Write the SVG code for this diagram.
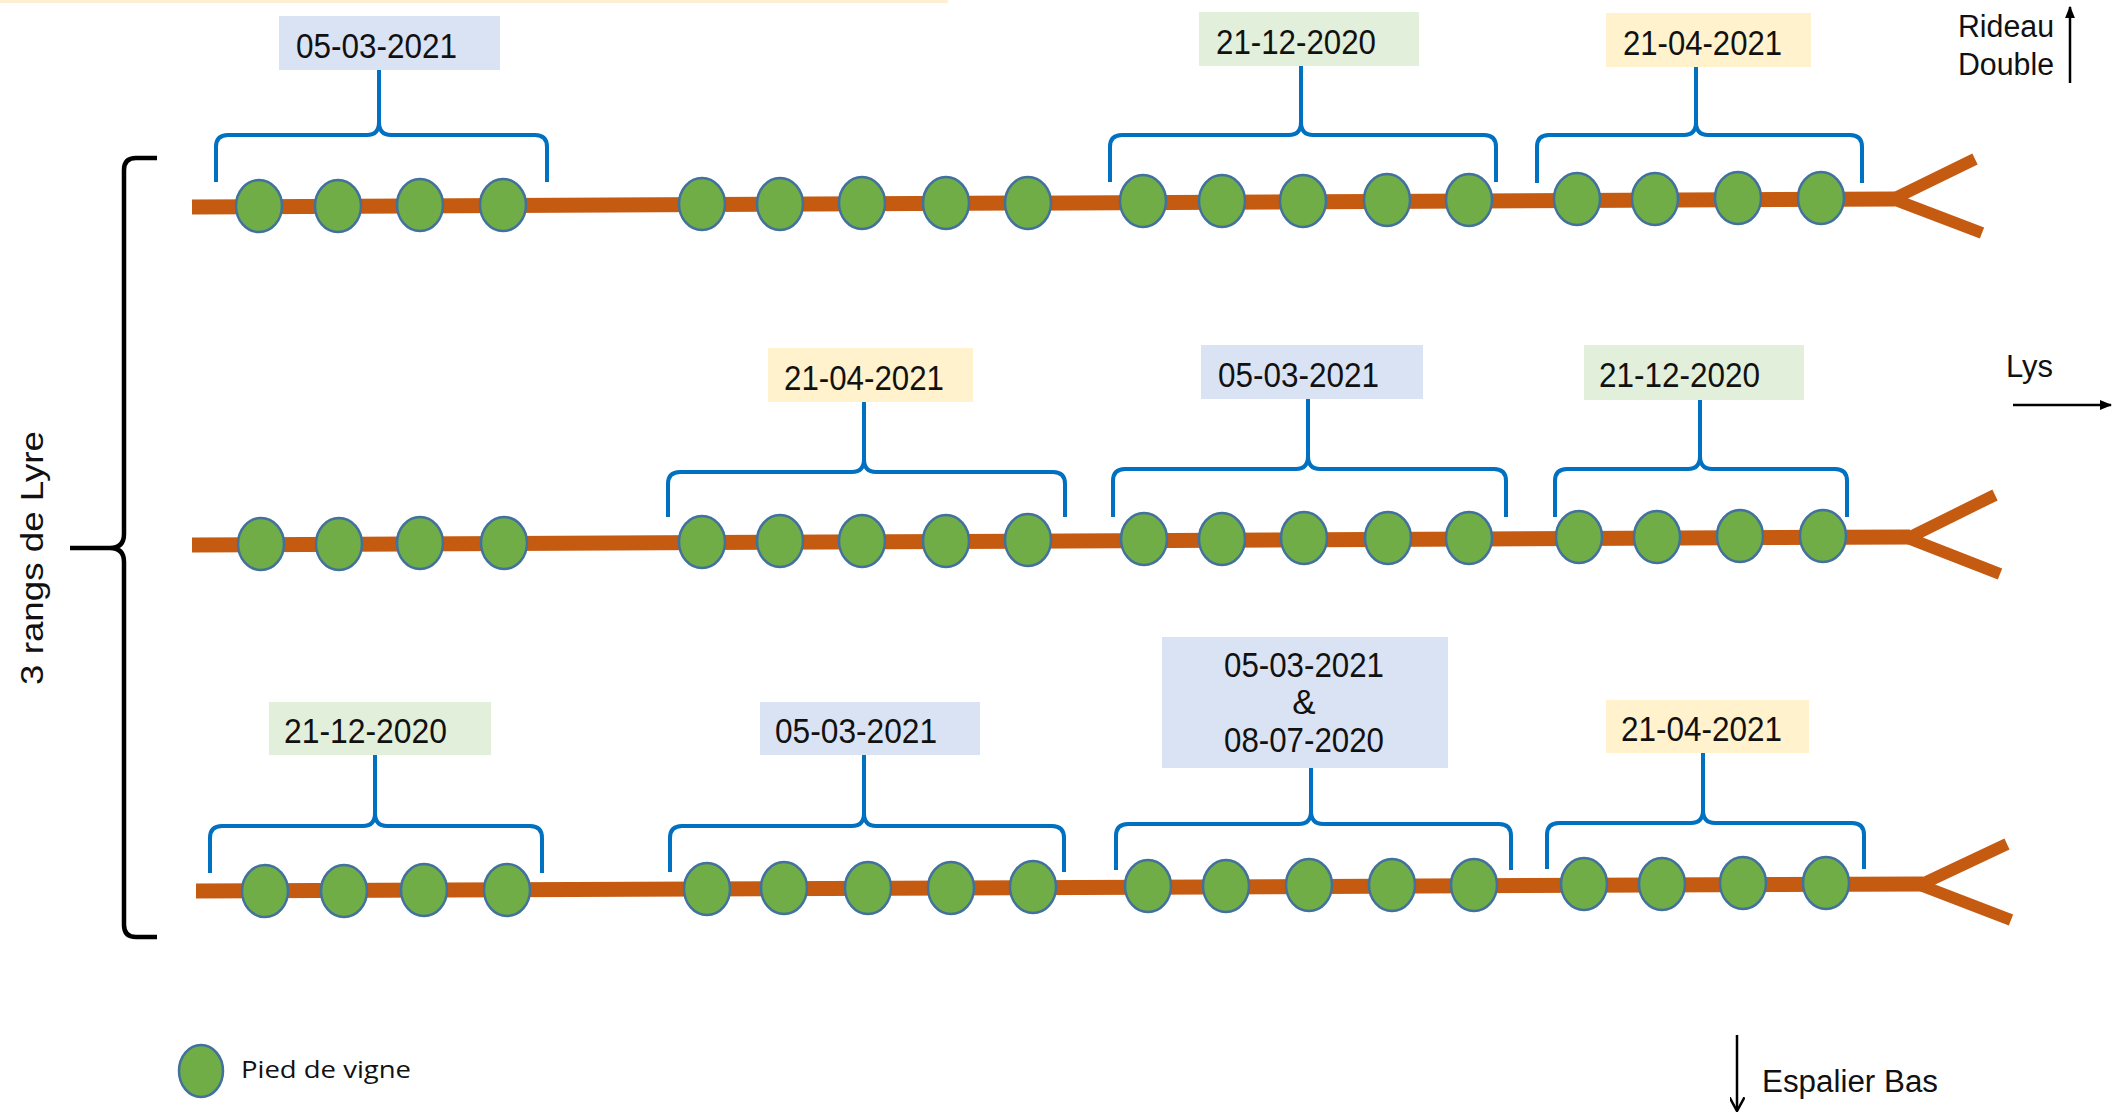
<svg xmlns="http://www.w3.org/2000/svg" width="2113" height="1113" viewBox="0 0 2113 1113">
<style>
.rail{stroke:#c55a11;stroke-width:15;fill:none;stroke-linecap:butt}
.arm{stroke:#c55a11;stroke-width:12;fill:none;stroke-linejoin:miter}
.vine{fill:#70ad47;stroke:#41719c;stroke-width:2.5}
.brace{fill:none;stroke:#0070c0;stroke-width:4;stroke-linejoin:round}
.bb{fill:#dae3f3}.bg{fill:#e2efda}.by{fill:#fff2cc}
.lbl{font-family:"Liberation Sans",Arial,sans-serif;font-size:35px;fill:#111}
.ax{font-family:"Liberation Sans",Arial,sans-serif;font-size:31px;fill:#111}
.arr{stroke:#000;stroke-width:2.5;fill:none}
.blk{stroke:#000;stroke-width:4.5;fill:none;stroke-linejoin:round}
</style>
<defs>
<marker id="ah" viewBox="0 0 10 10" refX="9" refY="5" markerWidth="5" markerHeight="5" orient="auto" markerUnits="strokeWidth">
<path d="M0,1 L10,5 L0,9 Z" fill="#000"/>
</marker>
<marker id="ahv" viewBox="0 0 12 12" refX="11" refY="6" markerWidth="6" markerHeight="6" orient="auto" markerUnits="strokeWidth">
<path d="M0,0 L11,6 L0,12" fill="none" stroke="#000" stroke-width="2"/>
</marker>
</defs>
<rect x="0" y="0" width="948" height="3" fill="#fdefd2"/>

<g id="rows">
<g id="row1">
<line class="rail" x1="192" y1="207" x2="1895" y2="199"/>
<polyline class="arm" points="1975,159 1893,199 1982,233"/>
<g id="row1-vines">
<ellipse class="vine" cx="259" cy="206" rx="23" ry="26"/><ellipse class="vine" cx="338" cy="206" rx="23" ry="26"/><ellipse class="vine" cx="420" cy="205" rx="23" ry="26"/><ellipse class="vine" cx="503" cy="205" rx="23" ry="26"/>
<ellipse class="vine" cx="702" cy="204" rx="23" ry="26"/><ellipse class="vine" cx="780" cy="204" rx="23" ry="26"/><ellipse class="vine" cx="862" cy="203" rx="23" ry="26"/><ellipse class="vine" cx="946" cy="203" rx="23" ry="26"/><ellipse class="vine" cx="1028" cy="203" rx="23" ry="26"/>
<ellipse class="vine" cx="1143" cy="201" rx="23" ry="26"/><ellipse class="vine" cx="1222" cy="201" rx="23" ry="26"/><ellipse class="vine" cx="1303" cy="201" rx="23" ry="26"/><ellipse class="vine" cx="1387" cy="200" rx="23" ry="26"/><ellipse class="vine" cx="1469" cy="200" rx="23" ry="26"/>
<ellipse class="vine" cx="1577" cy="199" rx="23" ry="26"/><ellipse class="vine" cx="1655" cy="199" rx="23" ry="26"/><ellipse class="vine" cx="1738" cy="198" rx="23" ry="26"/><ellipse class="vine" cx="1821" cy="198" rx="23" ry="26"/>
</g>
</g>
<g id="row2">
<line class="rail" x1="192" y1="545" x2="1910" y2="537"/>
<polyline class="arm" points="1995,495 1908,538 2000,574"/>
<g id="row2-vines">
<ellipse class="vine" cx="261" cy="544" rx="23" ry="26"/><ellipse class="vine" cx="339" cy="544" rx="23" ry="26"/><ellipse class="vine" cx="420" cy="543" rx="23" ry="26"/><ellipse class="vine" cx="504" cy="543" rx="23" ry="26"/>
<ellipse class="vine" cx="702" cy="542" rx="23" ry="26"/><ellipse class="vine" cx="780" cy="541" rx="23" ry="26"/><ellipse class="vine" cx="862" cy="541" rx="23" ry="26"/><ellipse class="vine" cx="946" cy="541" rx="23" ry="26"/><ellipse class="vine" cx="1028" cy="540" rx="23" ry="26"/>
<ellipse class="vine" cx="1144" cy="539" rx="23" ry="26"/><ellipse class="vine" cx="1222" cy="539" rx="23" ry="26"/><ellipse class="vine" cx="1304" cy="538" rx="23" ry="26"/><ellipse class="vine" cx="1388" cy="538" rx="23" ry="26"/><ellipse class="vine" cx="1469" cy="538" rx="23" ry="26"/>
<ellipse class="vine" cx="1579" cy="537" rx="23" ry="26"/><ellipse class="vine" cx="1657" cy="537" rx="23" ry="26"/><ellipse class="vine" cx="1740" cy="536" rx="23" ry="26"/><ellipse class="vine" cx="1823" cy="536" rx="23" ry="26"/>
</g>
</g>
<g id="row3">
<line class="rail" x1="196" y1="891" x2="1923" y2="884"/>
<polyline class="arm" points="2007,844 1920,885 2011,920"/>
<g id="row3-vines">
<ellipse class="vine" cx="265" cy="891" rx="23" ry="26"/><ellipse class="vine" cx="344" cy="891" rx="23" ry="26"/><ellipse class="vine" cx="424" cy="890" rx="23" ry="26"/><ellipse class="vine" cx="507" cy="890" rx="23" ry="26"/>
<ellipse class="vine" cx="707" cy="889" rx="23" ry="26"/><ellipse class="vine" cx="784" cy="888" rx="23" ry="26"/><ellipse class="vine" cx="868" cy="888" rx="23" ry="26"/><ellipse class="vine" cx="951" cy="888" rx="23" ry="26"/><ellipse class="vine" cx="1033" cy="887" rx="23" ry="26"/>
<ellipse class="vine" cx="1148" cy="886" rx="23" ry="26"/><ellipse class="vine" cx="1226" cy="886" rx="23" ry="26"/><ellipse class="vine" cx="1309" cy="885" rx="23" ry="26"/><ellipse class="vine" cx="1392" cy="885" rx="23" ry="26"/><ellipse class="vine" cx="1474" cy="885" rx="23" ry="26"/>
<ellipse class="vine" cx="1584" cy="884" rx="23" ry="26"/><ellipse class="vine" cx="1662" cy="884" rx="23" ry="26"/><ellipse class="vine" cx="1743" cy="883" rx="23" ry="26"/><ellipse class="vine" cx="1826" cy="883" rx="23" ry="26"/>
</g>
</g>
</g>

<g id="connectors">
<path class="brace" d="M216,182 V147 Q216,135 228,135 H367 Q379,135 379,122 V70 M379,122 Q379,135 391,135 H535 Q547,135 547,147 V182"/>
<path class="brace" d="M1110,182 V147 Q1110,135 1122,135 H1289 Q1301,135 1301,122 V66 M1301,122 Q1301,135 1313,135 H1484 Q1496,135 1496,147 V182"/>
<path class="brace" d="M1537,183 V147 Q1537,135 1549,135 H1684 Q1696,135 1696,122 V67 M1696,122 Q1696,135 1708,135 H1850 Q1862,135 1862,147 V183"/>
<path class="brace" d="M668,517 V484 Q668,472 680,472 H852 Q864,472 864,459 V402 M864,459 Q864,472 876,472 H1053 Q1065,472 1065,484 V517"/>
<path class="brace" d="M1113,517 V481 Q1113,469 1125,469 H1296 Q1308,469 1308,456 V399 M1308,456 Q1308,469 1320,469 H1494 Q1506,469 1506,481 V517"/>
<path class="brace" d="M1555,517 V481 Q1555,469 1567,469 H1688 Q1700,469 1700,456 V400 M1700,456 Q1700,469 1712,469 H1835 Q1847,469 1847,481 V517"/>
<path class="brace" d="M210,873 V838 Q210,826 222,826 H363 Q375,826 375,813 V755 M375,813 Q375,826 387,826 H530 Q542,826 542,838 V873"/>
<path class="brace" d="M670,872 V838 Q670,826 682,826 H852 Q864,826 864,813 V755 M864,813 Q864,826 876,826 H1052 Q1064,826 1064,838 V872"/>
<path class="brace" d="M1116,870 V836 Q1116,824 1128,824 H1299 Q1311,824 1311,811 V768 M1311,811 Q1311,824 1323,824 H1499 Q1511,824 1511,836 V870"/>
<path class="brace" d="M1547,869 V835 Q1547,823 1559,823 H1691 Q1703,823 1703,810 V753 M1703,810 Q1703,823 1715,823 H1852 Q1864,823 1864,835 V869"/>
</g>

<g id="label-r1a"><rect class="bb" x="279" y="16" width="221" height="54"/><text class="lbl" x="296" y="58" textLength="161" lengthAdjust="spacingAndGlyphs">05-03-2021</text></g>
<g id="label-r1c"><rect class="bg" x="1199" y="12" width="220" height="54"/><text class="lbl" x="1216" y="54" textLength="160" lengthAdjust="spacingAndGlyphs">21-12-2020</text></g>
<g id="label-r1d"><rect class="by" x="1606" y="13" width="205" height="54"/><text class="lbl" x="1623" y="55" textLength="159" lengthAdjust="spacingAndGlyphs">21-04-2021</text></g>
<g id="label-r2b"><rect class="by" x="768" y="348" width="205" height="54"/><text class="lbl" x="784" y="390" textLength="160" lengthAdjust="spacingAndGlyphs">21-04-2021</text></g>
<g id="label-r2c"><rect class="bb" x="1201" y="345" width="222" height="54"/><text class="lbl" x="1218" y="387" textLength="161" lengthAdjust="spacingAndGlyphs">05-03-2021</text></g>
<g id="label-r2d"><rect class="bg" x="1584" y="345" width="220" height="55"/><text class="lbl" x="1599" y="387" textLength="161" lengthAdjust="spacingAndGlyphs">21-12-2020</text></g>
<g id="label-r3a"><rect class="bg" x="269" y="702" width="222" height="53"/><text class="lbl" x="284" y="743" textLength="163" lengthAdjust="spacingAndGlyphs">21-12-2020</text></g>
<g id="label-r3b"><rect class="bb" x="760" y="702" width="220" height="53"/><text class="lbl" x="775" y="743" textLength="162" lengthAdjust="spacingAndGlyphs">05-03-2021</text></g>
<g id="label-r3c"><rect class="bb" x="1162" y="637" width="286" height="131"/>
<text class="lbl" x="1304" y="677" text-anchor="middle" textLength="160" lengthAdjust="spacingAndGlyphs">05-03-2021</text>
<text class="lbl" x="1304" y="714" text-anchor="middle">&amp;</text>
<text class="lbl" x="1304" y="752" text-anchor="middle" textLength="160" lengthAdjust="spacingAndGlyphs">08-07-2020</text></g>
<g id="label-r3d"><rect class="by" x="1606" y="700" width="203" height="53"/><text class="lbl" x="1621" y="741" textLength="161" lengthAdjust="spacingAndGlyphs">21-04-2021</text></g>

<g id="lyre-bracket">
<path class="blk" d="M157,158 H136 Q124,158 124,170 V534 Q124,548 110,548 H70 M110,548 Q124,548 124,562 V925 Q124,937 136,937 H157"/>
<text class="ax" transform="translate(43,558) rotate(-90)" text-anchor="middle" font-size="34" textLength="254" lengthAdjust="spacingAndGlyphs">3 rangs de Lyre</text>
</g>

<g id="rideau">
<line class="arr" x1="2070" y1="83" x2="2070" y2="7" marker-end="url(#ah)"/>
<text class="ax" x="1958" y="37" textLength="96" lengthAdjust="spacingAndGlyphs">Rideau</text>
<text class="ax" x="1958" y="75" textLength="96" lengthAdjust="spacingAndGlyphs">Double</text>
</g>
<g id="lys">
<line class="arr" x1="2013" y1="405" x2="2111" y2="405" marker-end="url(#ah)"/>
<text class="ax" x="2006" y="377">Lys</text>
</g>
<g id="espalier">
<line class="arr" x1="1737" y1="1035" x2="1737" y2="1111" marker-end="url(#ahv)"/>
<text class="ax" x="1762" y="1092" textLength="176" lengthAdjust="spacingAndGlyphs">Espalier Bas</text>
</g>
<g id="legend">
<ellipse class="vine" cx="201" cy="1071" rx="22" ry="26"/>
<text x="241" y="1078" font-family="'Open Sans','Noto Sans',sans-serif" font-size="24" fill="#111" textLength="170" lengthAdjust="spacingAndGlyphs">Pied de vigne</text>
</g>
</svg>
